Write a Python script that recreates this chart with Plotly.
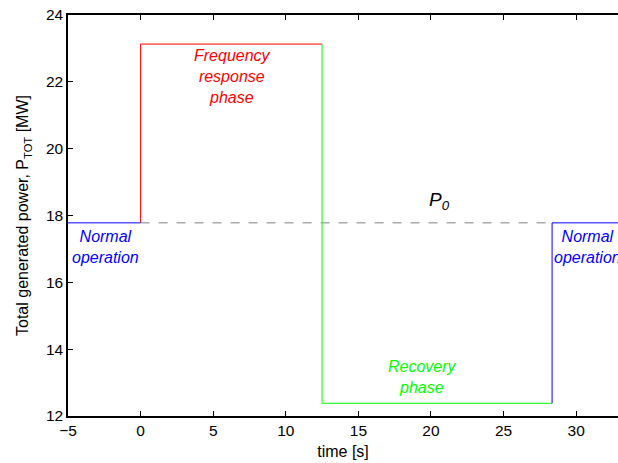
import plotly.graph_objects as go

# Power levels of each phase [MW]
p_nominal = 17.78      # P0, normal operation
p_response = 23.13     # frequency response phase
p_recovery = 12.38     # recovery phase

# Phase boundaries [s]
t_start = -5.0
t_response = 0.0
t_recovery = 12.5
t_back = 28.34
t_end = 35.0

phase_labels = ["Normal<br>operation", "Frequency<br>response<br>phase",
                "Recovery<br>phase", "Normal<br>operation"]
phase_colors = ["#0000ff", "#ff0000", "#00ff00", "#0000ff"]
label_x = [-2.45, 6.3, 19.4, 30.75]
label_y = [17.05, 22.15, 13.18, 17.05]

FONT = "Liberation Sans, Arial, Helvetica, sans-serif"

fig = go.Figure()

# Reference level P0 (dashed)
fig.add_trace(go.Scatter(x=[t_response, t_back], y=[p_nominal, p_nominal],
                         mode="lines", line=dict(color="#808080", width=1, dash="dash"),
                         hoverinfo="skip"))

# Normal operation before the event
fig.add_trace(go.Scatter(x=[t_start, t_response], y=[p_nominal, p_nominal],
                         mode="lines", line=dict(color=phase_colors[0], width=1)))
# Frequency response phase
fig.add_trace(go.Scatter(x=[t_response, t_response, t_recovery],
                         y=[p_nominal, p_response, p_response],
                         mode="lines", line=dict(color=phase_colors[1], width=1)))
# Recovery phase
fig.add_trace(go.Scatter(x=[t_recovery, t_recovery, t_back],
                         y=[p_response, p_recovery, p_recovery],
                         mode="lines", line=dict(color=phase_colors[2], width=1)))
# Back to normal operation
fig.add_trace(go.Scatter(x=[t_back, t_back, t_end],
                         y=[p_recovery, p_nominal, p_nominal],
                         mode="lines", line=dict(color=phase_colors[3], width=1)))

for txt, col, xx, yy in zip(phase_labels, phase_colors, label_x, label_y):
    fig.add_annotation(x=xx, y=yy, text=f"<i>{txt}</i>", showarrow=False,
                       font=dict(family=FONT, size=16, color=col),
                       xanchor="center", yanchor="middle")

fig.add_annotation(x=20.6, y=18.42, text="<i>P<sub>0</sub></i>", showarrow=False,
                   font=dict(family=FONT, size=19, color="black"),
                   xanchor="center", yanchor="middle")

fig.update_layout(
    width=618, height=463,
    margin=dict(l=68, r=0, t=15, b=47),
    paper_bgcolor="white", plot_bgcolor="white",
    showlegend=False,
    font=dict(family=FONT, size=15.5, color="black"),
    xaxis=dict(range=[-5, 32.88], tickmode="array",
               tickvals=[-5, 0, 5, 10, 15, 20, 25, 30],
               ticktext=["\u22125", "0", "5", "10", "15", "20", "25", "30"],
               ticks="inside", ticklen=5, tickcolor="black", tickwidth=1,
               showline=True, linecolor="black", linewidth=1.5, mirror="ticks",
               showgrid=False, zeroline=False,
               title=dict(text="time [s]", standoff=7, font=dict(size=16))),
    yaxis=dict(range=[12, 24], tickmode="array",
               tickvals=[12, 14, 16, 18, 20, 22, 24],
               ticks="inside", ticklen=5, tickcolor="black", tickwidth=1,
               showline=True, linecolor="black", linewidth=1.5,
               showgrid=False, zeroline=False,
               title=dict(text="Total generated power, P<sub>TOT</sub> [MW]",
                          standoff=13, font=dict(size=16))),
)

fig.write_html("out.html")
